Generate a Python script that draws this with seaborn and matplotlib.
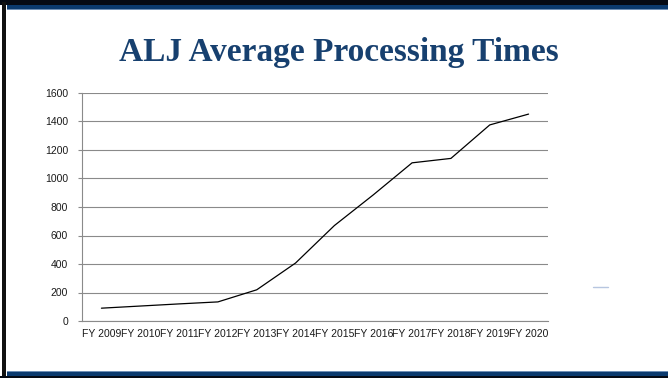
import matplotlib
matplotlib.use("Agg")
import matplotlib.pyplot as plt
from matplotlib.patches import Rectangle
from matplotlib.lines import Line2D
import pandas as pd
import seaborn as sns

# fiscal years and average processing times (days)
years = ['FY 2009', 'FY 2010', 'FY 2011', 'FY 2012', 'FY 2013', 'FY 2014',
         'FY 2015', 'FY 2016', 'FY 2017', 'FY 2018', 'FY 2019', 'FY 2020']
days = [90, 105, 120, 134, 219, 407, 670, 885, 1110, 1141, 1376, 1452]
yticks = [0, 200, 400, 600, 800, 1000, 1200, 1400, 1600]

df = pd.DataFrame({'year': years, 'days': days})

sns.set_style("white")
plt.rcParams['font.family'] = ['Liberation Sans', 'DejaVu Sans']

fig = plt.figure(figsize=(6.68, 3.78), dpi=100)

# slide frame: dark bands top and bottom, black rule on the left
W, H = 668, 378
def px_rect(x, y, w, h, color):
    fig.patches.append(Rectangle((x / W, 1 - (y + h) / H), w / W, h / H,
                                 transform=fig.transFigure, color=color, lw=0, zorder=0))
px_rect(0, 0, W, 4.5, '#050a14')
px_rect(7, 4.5, W - 7, 4.5, '#0b3a6e')
px_rect(7, 9, W - 7, 1.2, '#6f8fb5')
px_rect(1.5, 2, 4.5, 374, '#111111')
px_rect(7, 370.5, W - 7, 1.2, '#6f8fb5')
px_rect(7, 371.5, W - 7, 4.5, '#0b3a6e')
px_rect(0, 376, W, 2, '#050a14')
fig.lines.append(Line2D([593 / W, 608 / W], [1 - 286.5 / H, 1 - 286.5 / H],
                        transform=fig.transFigure, color='#b7c6e0', lw=1))

fig.text(339 / W, 1 - 61 / H, 'ALJ Average Processing Times', ha='center', va='baseline',
         fontsize=24, fontweight='bold', color='#17406f',
         family=['Liberation Serif', 'DejaVu Serif'])

ax = fig.add_axes([82 / W, 1 - 321 / H, (548 - 82) / W, (321 - 93) / H])
sns.lineplot(data=df, x='year', y='days', color='black', linewidth=0.9, sort=False, ax=ax)

ax.set_xlim(-0.5, len(years) - 0.5)
ax.set_ylim(0, 1600)
ax.set_yticks(yticks)
ax.set_yticklabels([str(v) for v in yticks], fontsize=7.5, color='#1a1a1a')
ax.yaxis.grid(True, color='#8a8a8a', linewidth=0.8)
ax.set_axisbelow(True)

# Excel-style category axis: ticks between categories, labels centered
ax.set_xticks([i - 0.5 for i in range(len(years) + 1)])
ax.set_xticklabels([])
ax.set_xticks(range(len(years)), minor=True)
ax.set_xticklabels(years, minor=True, fontsize=7.5, color='#1a1a1a')
ax.tick_params(axis='x', which='major', length=4, color='#8a8a8a', width=0.8, direction='out')
ax.tick_params(axis='x', which='minor', length=0, pad=6)
ax.tick_params(axis='y', length=3, color='#8a8a8a', width=0.8, pad=7, direction='out', left=True)

for side in ['top', 'right']:
    ax.spines[side].set_visible(False)
ax.spines['left'].set_color('#8a8a8a')
ax.spines['bottom'].set_color('#8a8a8a')
ax.spines['left'].set_linewidth(0.8)
ax.spines['bottom'].set_linewidth(0.8)
ax.set_xlabel('')
ax.set_ylabel('')

fig.savefig('out.png', dpi=100)
